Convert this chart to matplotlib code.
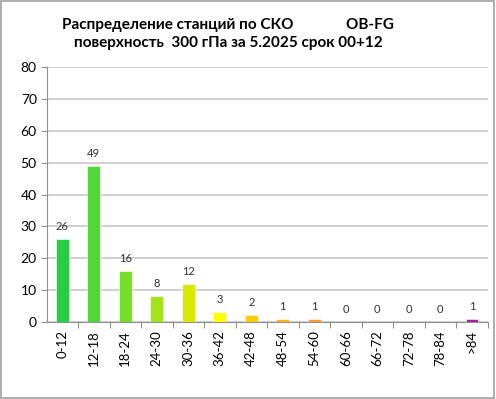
import matplotlib
matplotlib.use("Agg")
import matplotlib.pyplot as plt
from matplotlib.patches import Rectangle

categories = ["0-12", "12-18", "18-24", "24-30", "30-36", "36-42", "42-48",
              "48-54", "54-60", "60-66", "66-72", "72-78", "78-84", ">84"]
counts = [26, 49, 16, 8, 12, 3, 2, 1, 1, 0, 0, 0, 0, 1]
bar_colors = ["#29cc45", "#52d63a", "#76dd28", "#a6e21c", "#d6ea06", "#ffff00",
              "#ffcc00", "#ffb020", "#ff9a2e", "#ff8a30", "#ff7a30", "#ff6a30",
              "#ff5a30", "#a8209e"]
title = "Распределение станций по СКО              OB-FG\nповерхность  300 гПа за 5.2025 срок 00+12"

plt.rcParams['font.family'] = ['Lato', 'DejaVu Sans']

fig = plt.figure(figsize=(4.96, 3.99), dpi=100)
ax = fig.add_axes([0.0938, 0.1937, 0.8892, 0.6376])

x = range(len(categories))
ax.bar(x, counts, width=0.4, color=bar_colors, edgecolor="white", linewidth=0.4, zorder=3)
for i, v in enumerate(counts):
    ax.text(i, v + 2.2, str(v), ha="center", va="bottom", fontsize=8, color="#303030")

ax.set_xlim(-0.5, len(categories) - 0.5)
ax.set_ylim(0, 80)
ax.set_yticks(range(0, 81, 10))
# category boundaries as major ticks, labels sit on minor ticks at bar centres
ax.set_xticks([i + 0.5 for i in range(len(categories))])
ax.set_xticklabels([])
ax.set_xticks(list(x), minor=True)
ax.set_xticklabels(categories, minor=True, rotation=90, fontsize=9.5)
ax.tick_params(axis="x", which="major", length=4, color="#909090")
ax.tick_params(axis="x", which="minor", length=0, pad=6)
ax.tick_params(axis="y", length=4, color="#909090", labelsize=10, pad=3)
ax.grid(axis="y", color="#c8c8c8", linewidth=1.2, zorder=0)
for s in ["top", "right"]:
    ax.spines[s].set_visible(False)
ax.spines["left"].set_color("#909090")
ax.spines["bottom"].set_color("#909090")

fig.text(0.46, 0.955, title, ha="center", va="top", fontsize=11, fontweight="bold",
         linespacing=1.4)
fig.patches.append(Rectangle((0.002, 0.003), 0.994, 0.994, transform=fig.transFigure,
                             fill=False, edgecolor="#a0a0a0", linewidth=1.2))

fig.savefig("out.png", dpi=100)
